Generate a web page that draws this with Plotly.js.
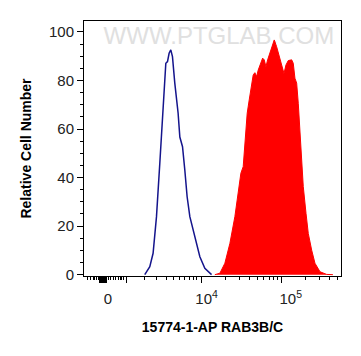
<!DOCTYPE html>
<html>
<head>
<meta charset="utf-8">
<script src="https://cdn.plot.ly/plotly-3.0.1.min.js"></script>
<style>html,body{margin:0;padding:0;background:#fff;}#chart{width:361px;height:356px;}</style>
</head>
<body>
<div id="chart"></div>
<script>
// x values are positions on the biexponential display scale, in decades (4 = 10^4, 5 = 10^5)
var controlX = [3.291, 3.354, 3.395, 3.4375, 3.479, 3.52, 3.554, 3.575, 3.595, 3.616, 3.637, 3.666, 3.7075, 3.729, 3.7625, 3.791, 3.82, 3.854, 3.895, 3.9375, 3.979, 4.041, 4.125];
var controlY = [0, 3.3, 8.8, 23.9, 45.9, 70.6, 87.1, 87.8, 91.2, 92.6, 89.8, 78.9, 66.5, 56.7, 52.7, 43.1, 32.1, 23.9, 18.4, 12.9, 7.4, 2.6, 0];

var sampleX = [4.166, 4.229, 4.291, 4.354, 4.416, 4.4575, 4.491, 4.52, 4.541, 4.57, 4.595, 4.625, 4.645, 4.666, 4.6875, 4.7075, 4.7375, 4.7625, 4.7825, 4.804, 4.825, 4.854, 4.8875, 4.9075, 4.9375, 4.97, 5.0, 5.029, 5.054, 5.0825, 5.125, 5.145, 5.166, 5.1875, 5.2075, 5.229, 5.25, 5.27, 5.304, 5.3325, 5.375, 5.416, 5.479, 5.5625, 5.64];
var sampleY = [0, 0.6, 4.7, 12.9, 23.9, 33.5, 41.8, 44.5, 55.5, 66.5, 72.0, 77.4, 82.3, 83.2, 81.6, 84.3, 87.1, 89.2, 88.5, 85.7, 88.5, 91.2, 94.7, 96.7, 93.9, 89.8, 85.7, 82.9, 86.4, 88.2, 88.5, 87.1, 80.9, 78.9, 70.6, 58.2, 45.9, 36.3, 25.3, 17.0, 10.1, 4.7, 1.2, 0.1, 0];

var xLabelVals = [2.8325, 4.0625, 5.114];
var xLabelText = ['0', '10<sup>4</sup>', '10<sup>5</sup>'];

var xMajorTicks = [2.729, 2.741, 2.754, 2.766, 2.779, 2.791, 2.804, 2.816, 3.0625, 4, 5];
var xMinorTicks = [2.570, 2.6125, 2.645, 2.666, 2.6875, 2.7125, 2.8325, 2.866, 2.895, 2.929, 2.9575, 2.9875, 3.004, 3.029,
  3.291, 3.4375, 3.5625, 3.645, 3.729, 3.791, 3.845, 3.895, 3.9375];
[2,3,4,5,6,7,8,9].forEach(function(k){ xMinorTicks.push(4 + Math.log10(k)); });
[2,3,4,5].forEach(function(k){ xMinorTicks.push(5 + Math.log10(k)); });

var xRange = [2.5325, 5.741];
var yRange = [-0.55, 104.5];
var font = 'Arial, "Liberation Sans", sans-serif';

var traces = [
  {x: sampleX, y: sampleY, type: 'scatter', mode: 'lines', fill: 'tozeroy',
   fillcolor: '#ff0000', line: {color: '#ff0000', width: 1}, hoverinfo: 'skip'},
  {x: controlX, y: controlY, type: 'scatter', mode: 'lines',
   line: {color: '#14148c', width: 1.5}, hoverinfo: 'skip'},
  {x: [xRange[0]], y: [0], xaxis: 'x2', type: 'scatter', mode: 'markers',
   marker: {opacity: 0}, hoverinfo: 'skip', showlegend: false}
];

var layout = {
  width: 361, height: 356,
  margin: {l: 84, r: 20, t: 21, b: 80},
  paper_bgcolor: '#ffffff', plot_bgcolor: '#ffffff',
  showlegend: false,
  font: {family: font, color: '#222'},
  xaxis: {
    range: xRange, showgrid: false, zeroline: false,
    showline: true, linecolor: '#000', linewidth: 1, mirror: true,
    tickmode: 'array', tickvals: xMajorTicks, showticklabels: false,
    ticks: 'outside', ticklen: 6, tickwidth: 1, tickcolor: '#000',
    minor: {tickmode: 'array', tickvals: xMinorTicks, ticks: 'outside', ticklen: 3, tickwidth: 1, tickcolor: '#000', showgrid: false},
    title: {text: '15774-1-AP RAB3B/C', font: {size: 14, color: '#000', family: font, weight: 'bold'}, standoff: 40},
    fixedrange: true
  },
  xaxis2: {
    overlaying: 'x', anchor: 'y', side: 'bottom', range: xRange,
    showgrid: false, zeroline: false, showline: false, ticks: '',
    tickmode: 'array', tickvals: xLabelVals, ticktext: xLabelText,
    tickfont: {size: 15, color: '#222', family: font}, ticklabelstandoff: 12,
    fixedrange: true
  },
  yaxis: {
    range: yRange, showgrid: false, zeroline: false,
    showline: true, linecolor: '#000', linewidth: 1, mirror: true,
    tickmode: 'array', tickvals: [0, 20, 40, 60, 80, 100],
    ticks: 'outside', ticklen: 6, tickwidth: 1, tickcolor: '#000',
    minor: {dtick: 5, ticks: 'outside', ticklen: 3, tickwidth: 1, tickcolor: '#000', showgrid: false},
    tickfont: {size: 15, color: '#222', family: font},
    title: {text: 'Relative Cell Number', font: {size: 14, color: '#000', family: font, weight: 'bold'}, standoff: 14},
    fixedrange: true
  },
  shapes: [{
    type: 'rect', xref: 'paper', yref: 'paper', x0: 0.06, x1: 0.99, y0: 0.9, y1: 1.0,
    line: {width: 0}, fillcolor: 'rgba(0,0,0,0)', layer: 'below',
    label: {text: 'WWW.PTGLAB.COM', textposition: 'middle center',
            font: {size: 24, color: '#e0e0e0', family: font}}
  }]
};

Plotly.newPlot('chart', traces, layout, {displayModeBar: false, staticPlot: true});
</script>
</body>
</html>
